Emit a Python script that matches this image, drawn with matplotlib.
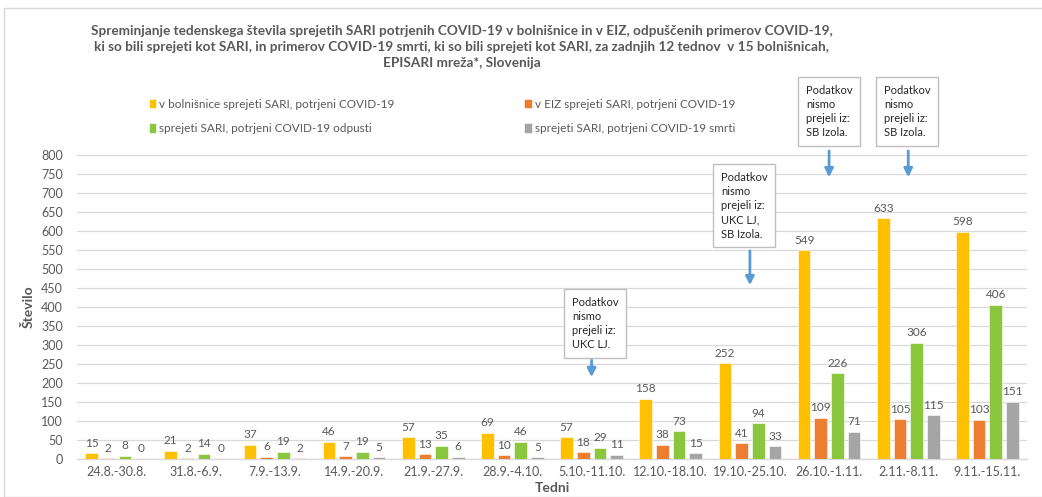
import matplotlib
matplotlib.use("Agg")
import matplotlib.pyplot as plt
import numpy as np
from matplotlib.patches import Rectangle

plt.rcParams['font.family'] = ['Lato', 'DejaVu Sans']

weeks = ["24.8.-30.8.", "31.8.-6.9.", "7.9.-13.9.", "14.9.-20.9.", "21.9.-27.9.",
         "28.9.-4.10.", "5.10.-11.10.", "12.10.-18.10.", "19.10.-25.10.",
         "26.10.-1.11.", "2.11.-8.11.", "9.11.-15.11."]
admitted = [15, 21, 37, 46, 57, 69, 57, 158, 252, 549, 633, 598]
icu = [2, 2, 6, 7, 13, 10, 18, 38, 41, 109, 105, 103]
discharged = [8, 14, 19, 19, 35, 46, 29, 73, 94, 226, 306, 406]
deaths = [0, 0, 2, 5, 6, 5, 11, 15, 33, 71, 115, 151]

series_names = ["v bolnišnice sprejeti SARI, potrjeni COVID-19",
                "v EIZ sprejeti SARI, potrjeni COVID-19",
                "sprejeti SARI, potrjeni COVID-19 odpusti",
                "sprejeti SARI, potrjeni COVID-19 smrti"]
colors = ["#FFC000", "#ED7D31", "#8CC63F", "#A5A5A5"]

title = ("Spreminjanje tedenskega števila sprejetih SARI potrjenih COVID-19 v bolnišnice in v EIZ, odpuščenih primerov COVID-19,\n"
         "ki so bili sprejeti kot SARI, in primerov COVID-19 smrti, ki so bili sprejeti kot SARI, za zadnjih 12 tednov  v 15 bolnišnicah,\n"
         "EPISARI mreža*, Slovenija")

notes = [(6, "Podatkov\nnismo\nprejeli iz:\nUKC LJ."),
         (8, "Podatkov\nnismo\nprejeli iz:\nUKC LJ,\nSB Izola."),
         (9, "Podatkov\nnismo\nprejeli iz:\nSB Izola."),
         (10, "Podatkov\nnismo\nprejeli iz:\nSB Izola.")]

txt = "#595959"
fig = plt.figure(figsize=(10.42, 4.97), dpi=100)
W, H = 1042, 497
ax = fig.add_axes([77 / W, 1 - 459 / H, 950 / W, 304 / H])

x = np.arange(len(weeks))
width = 0.16
step = 0.21
all_series = [admitted, icu, discharged, deaths]
handles = []
for i, (vals, col, name) in enumerate(zip(all_series, colors, series_names)):
    pos = x + (i - 1.5) * step
    bars = ax.bar(pos, vals, width, color=col, label=name, edgecolor='white', linewidth=0.4, zorder=3)
    handles.append(bars)
    for p, v in zip(pos, vals):
        ax.text(p, v + 12, str(v), ha='center', va='bottom', fontsize=8.5, color=txt, zorder=4)

ax.set_xlim(-0.5, len(weeks) - 0.5)
ax.set_ylim(0, 800)
ax.set_yticks(np.arange(0, 801, 50))
ax.set_xticks(x)
ax.set_xticklabels(weeks)
ax.tick_params(axis='both', length=0, labelsize=9, colors=txt)
ax.tick_params(axis='x', pad=5)
ax.tick_params(axis='y', pad=10)
ax.grid(axis='y', color='#D9D9D9', linewidth=0.9, zorder=0)
for s in ['top', 'right', 'left']:
    ax.spines[s].set_visible(False)
ax.spines['bottom'].set_color('#D9D9D9')
ax.spines['bottom'].set_linewidth(1.0)
ax.set_axisbelow(True)

ax.set_ylabel("Število", fontsize=10, fontweight='bold', color=txt)
ax.yaxis.set_label_coords(-0.045, 0.5)
ax.set_xlabel("Tedni", fontsize=10, fontweight='bold', color=txt, labelpad=3)

fig.text(462 / W, 1 - 47 / H, title, ha='center', va='center', fontsize=9.8,
         fontweight='bold', color=txt, linespacing=1.4)

order = [0, 2, 1, 3]
leg = fig.legend([handles[k] for k in order], [series_names[k] for k in order],
                 loc='upper left', bbox_to_anchor=(138 / W, 1 - 88 / H), ncol=2,
                 frameon=False, fontsize=8.5, handlelength=0.6, handleheight=0.9,
                 handletextpad=0.3, columnspacing=11.0, labelspacing=1.15)
for t in leg.get_texts():
    t.set_color(txt)

# annotation boxes (text anchor in pixels), arrow tail/head in data units
box_px = {6: (572, 297), 8: (721, 172), 9: (806, 85), 10: (884, 85)}
arrows = {6: (268, 208), 8: (555, 450), 9: (818, 734), 10: (818, 734)}
for idx, text in notes:
    bx, by = box_px[idx]
    fig.text(bx / W, 1 - by / H, text, ha='left', va='top', fontsize=8, color='#262626',
             linespacing=1.35,
             bbox=dict(boxstyle='square,pad=0.7', fc='white', ec='#BFBFBF', lw=1.0))
    y0, y1 = arrows[idx]
    ax.annotate('', xy=(idx, y1), xytext=(idx, y0), annotation_clip=False,
                arrowprops=dict(arrowstyle='-|>,head_width=0.25,head_length=0.5',
                                color='#5B9BD5', lw=2))

fig.patches.append(Rectangle((4 / W, 0), 1.2, 1 - 8 / H, transform=fig.transFigure,
                             fill=False, ec='#D9D9D9', lw=1.0))

fig.savefig("out.png", dpi=100)
